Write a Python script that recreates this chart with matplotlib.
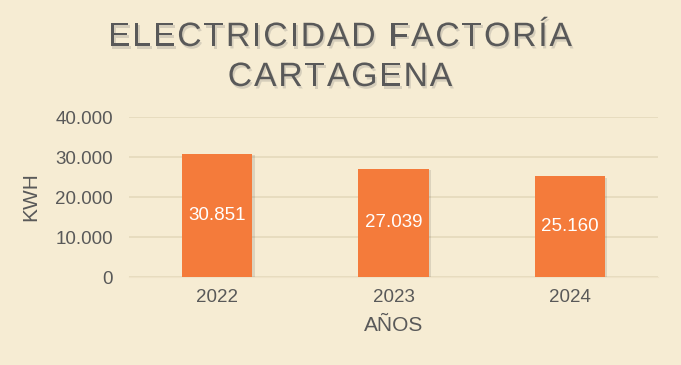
import matplotlib
matplotlib.use("Agg")
import matplotlib.pyplot as plt
import matplotlib.patheffects as pe

years = ["2022", "2023", "2024"]
kwh = [30851, 27039, 25160]
yticks = [0, 10000, 20000, 30000, 40000]
ytick_labels = ["0", "10.000", "20.000", "30.000", "40.000"]
title_lines = ["ELECTRICIDAD FACTORÍA", "CARTAGENA"]

bg = "#F6ECD3"
grey = "#595959"
orange = "#F47B3B"
W, H = 681, 365

plt.rcParams["font.family"] = ["Liberation Sans", "DejaVu Sans"]

fig = plt.figure(figsize=(6.81, 3.65), dpi=100, facecolor=bg)
ax = fig.add_axes([129 / W, 1 - 277 / H, (658 - 129) / W, 160 / H])
ax.set_facecolor(bg)

shadow = [pe.SimplePatchShadow(offset=(1.5, -1), shadow_rgbFace="black", alpha=0.1), pe.Normal()]
bars = ax.bar(years, kwh, width=0.4, color=orange, zorder=3, path_effects=shadow)
for b, v in zip(bars, kwh):
    ax.text(b.get_x() + b.get_width() / 2, v / 2, f"{v:,}".replace(",", "."),
            ha="center", va="center", color="white", fontsize=13.5, zorder=4)

ax.set_ylim(0, 40000)
ax.set_xlim(-0.5, 2.5)
ax.set_yticks(yticks)
ax.set_yticklabels(ytick_labels)
ax.yaxis.grid(True, color="#E5D9BC", linewidth=1.2, zorder=0)
ax.tick_params(axis="both", length=0, labelsize=13.5, labelcolor=grey)
ax.tick_params(axis="y", pad=11.5)
ax.tick_params(axis="x", pad=9)
for s in ["top", "right", "left"]:
    ax.spines[s].set_visible(False)
ax.spines["bottom"].set_color("#EFE3C8")
ax.set_ylabel("KWH", fontsize=15, color=grey, labelpad=11)
ax.set_xlabel("AÑOS", fontsize=15, color=grey, labelpad=7)

# title with letter spacing and a soft shadow
renderer = fig.canvas.get_renderer()
tsize = 24.3
spacing = 1.8
tshadow = [pe.withSimplePatchShadow(offset=(1.2, -1.8), shadow_rgbFace="#777777", alpha=0.25)]
for line, ybase in zip(title_lines, [46, 86]):
    widths = []
    for ch in line:
        if ch == " ":
            widths.append(tsize * 0.278 * 100 / 72)
            continue
        t = fig.text(0, 0, ch, fontsize=tsize)
        widths.append(t.get_window_extent(renderer).width)
        t.remove()
    total = sum(widths) + spacing * (len(line) - 1)
    x = 340 - total / 2
    for ch, w in zip(line, widths):
        if ch != " ":
            fig.text(x / W, 1 - ybase / H, ch, fontsize=tsize, color=grey,
                     ha="left", va="baseline", path_effects=tshadow)
        x += w + spacing

fig.savefig("out.png", dpi=100, facecolor=bg)
